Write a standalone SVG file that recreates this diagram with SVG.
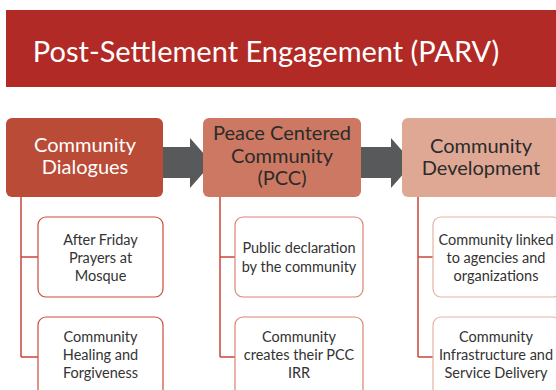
<svg xmlns="http://www.w3.org/2000/svg" width="556" height="390" viewBox="0 0 556 390">
<style>
text{font-family:Lato,"Open Sans","Liberation Sans",sans-serif;text-anchor:middle}
.title{fill:#fff;font-size:29px}
.h{font-size:20px}
.hw{fill:#fff}
.hd{fill:#2b2b2b}
.c{font-size:14.5px;fill:#333}
.conn{fill:none;stroke:#C9463A;stroke-width:1.5}
.arrow{fill:#58595B}
.ch{fill:#fff;stroke-width:1.2}
</style>
<rect x="0" y="0" width="556" height="390" fill="#fff"/>
<g id="title">
<rect x="6" y="10" width="552" height="77" fill="#B22A26"/>
<text class="title" x="266" y="62">Post-Settlement Engagement (PARV)</text>
</g>
<g id="connectors">
<path class="conn" d="M21 197V357M21 257H38M21 357H38"/>
<path class="conn" d="M220 197V357M220 257H235M220 357H235"/>
<path class="conn" d="M418 197V357M418 257H433M418 357H433"/>
<polygon class="arrow" points="154,147 190,147 190,138 212,163 190,188 190,178 154,178"/>
<polygon class="arrow" points="354,147 391,147 391,138 413,163 391,188 391,178 354,178"/>
</g>
<g id="n1">
<rect x="6" y="118" width="157" height="79" rx="6" fill="#B94B37"/>
<text class="h hw" x="85" y="152">Community</text>
<text class="h hw" x="85" y="174">Dialogues</text>
</g>
<g id="n2">
<rect x="203" y="118" width="158" height="79" rx="6" fill="#CC7862"/>
<text class="h hd" x="282" y="140">Peace Centered</text>
<text class="h hd" x="282" y="163">Community</text>
<text class="h hd" x="282" y="185">(PCC)</text>
</g>
<g id="n3">
<rect x="402" y="118" width="160" height="79" rx="6" fill="#DFA895"/>
<text class="h hd" x="481" y="153">Community</text>
<text class="h hd" x="481" y="175">Development</text>
</g>
<g id="c1a">
<rect class="ch" x="38" y="217" width="125" height="80" rx="8" stroke="#CD4B38"/>
<text class="c" x="100.5" y="245">After Friday</text>
<text class="c" x="100.5" y="263">Prayers at</text>
<text class="c" x="100.5" y="281">Mosque</text>
</g>
<g id="c1b">
<rect class="ch" x="38" y="317" width="125" height="80" rx="8" stroke="#CD4B38"/>
<text class="c" x="100.5" y="342">Community</text>
<text class="c" x="100.5" y="360">Healing and</text>
<text class="c" x="100.5" y="378">Forgiveness</text>
</g>
<g id="c2a">
<rect class="ch" x="235" y="217" width="128" height="80" rx="8" stroke="#D98572"/>
<text class="c" x="299" y="253">Public declaration</text>
<text class="c" x="299" y="272">by the community</text>
</g>
<g id="c2b">
<rect class="ch" x="235" y="317" width="128" height="80" rx="8" stroke="#D98572"/>
<text class="c" x="299" y="342">Community</text>
<text class="c" x="299" y="360">creates their PCC</text>
<text class="c" x="299" y="378">IRR</text>
</g>
<g id="c3a">
<rect class="ch" x="433" y="217" width="128" height="80" rx="8" stroke="#E6B3A3"/>
<text class="c" x="496" y="245">Community linked</text>
<text class="c" x="496" y="263">to agencies and</text>
<text class="c" x="496" y="281">organizations</text>
</g>
<g id="c3b">
<rect class="ch" x="433" y="317" width="128" height="80" rx="8" stroke="#E6B3A3"/>
<text class="c" x="496" y="342">Community</text>
<text class="c" x="496" y="360">Infrastructure and</text>
<text class="c" x="496" y="378">Service Delivery</text>
</g>
</svg>
